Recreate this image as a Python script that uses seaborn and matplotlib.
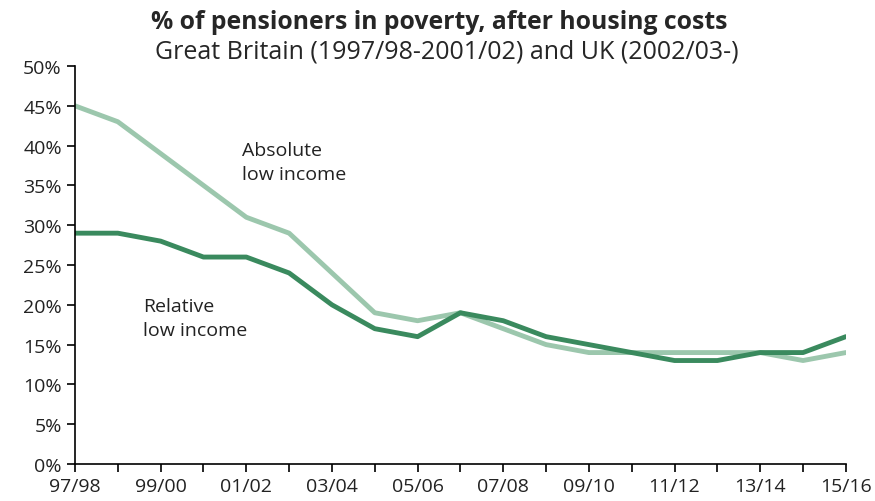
import pandas as pd
import matplotlib.pyplot as plt
import seaborn as sns

years = ["97/98", "98/99", "99/00", "00/01", "01/02", "02/03", "03/04", "04/05",
         "05/06", "06/07", "07/08", "08/09", "09/10", "10/11", "11/12", "12/13",
         "13/14", "14/15", "15/16"]
absolute = [45, 43, 39, 35, 31, 29, 24, 19, 18, 19, 17, 15, 14, 14, 14, 14, 14, 13, 14]
relative = [29, 29, 28, 26, 26, 24, 20, 17, 16, 19, 18, 16, 15, 14, 13, 13, 14, 14, 16]

df = pd.DataFrame({"x": range(len(years)), "absolute": absolute, "relative": relative})

sns.set_style("ticks")
plt.rcParams['font.family'] = ['Open Sans', 'DejaVu Sans']

fig = plt.figure(figsize=(8.75, 5.02), dpi=100)
ax = fig.add_axes([0.0857, 0.0737, 0.881, 0.7928])

sns.lineplot(data=df, x="x", y="absolute", color="#9cc7ad", linewidth=3.5, ax=ax)
sns.lineplot(data=df, x="x", y="relative", color="#3a8a5e", linewidth=3.5, ax=ax)

ax.set_xlim(0, len(years) - 1)
ax.set_ylim(0, 50)
ax.set_xticks(range(len(years)))
ax.set_xticklabels([y if i % 2 == 0 else "" for i, y in enumerate(years)])
ax.set_yticks(range(0, 51, 5))
ax.set_yticklabels([f"{v}%" for v in range(0, 51, 5)])
ax.tick_params(labelsize=14, length=6, width=1.2, color="black", labelcolor="#222222")
ax.tick_params(axis="x", pad=3)
ax.set_xlabel("")
ax.set_ylabel("")
sns.despine(ax=ax)
for s in ["left", "bottom"]:
    ax.spines[s].set_linewidth(1.2)
    ax.spines[s].set_color("black")

ax.text(3.9, 40.6, "Absolute\nlow income", fontsize=14, va="top", ha="left",
        color="#222222", linespacing=1.45)
ax.text(1.59, 21.0, "Relative\nlow income", fontsize=14, va="top", ha="left",
        color="#222222", linespacing=1.45)

fig.text(0.502, 0.956, "% of pensioners in poverty, after housing costs", ha="center", va="center",
         fontsize=17.8, fontweight="bold")
fig.text(0.511, 0.896, "Great Britain (1997/98-2001/02) and UK (2002/03-)", ha="center", va="center",
         fontsize=18)

fig.savefig("out.png", dpi=100)
